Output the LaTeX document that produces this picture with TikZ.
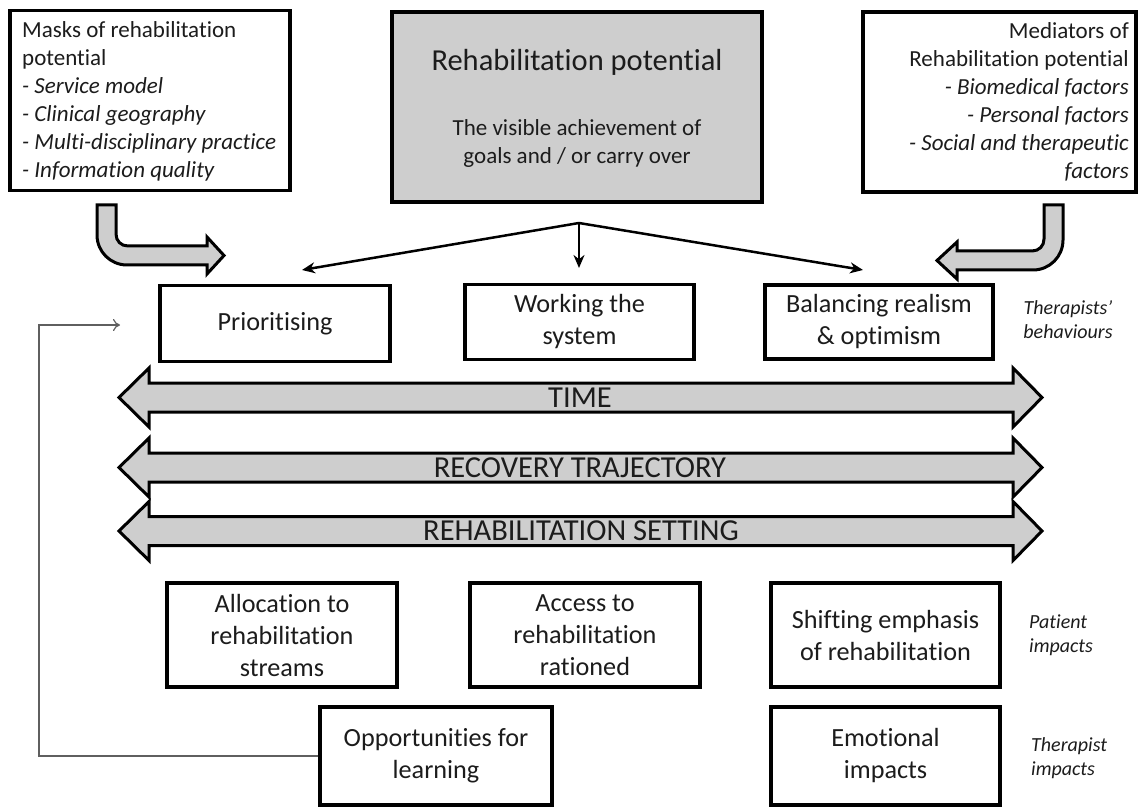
\documentclass[tikz,border=0pt]{standalone}
\usepackage{fontspec}
\setmainfont{Carlito}[Ligatures={NoCommon}]
\usetikzlibrary{arrows.meta}
\definecolor{boxgray}{RGB}{206,206,206}
\definecolor{txt}{RGB}{28,28,28}
\definecolor{fbline}{RGB}{95,95,95}
\tikzset{
 box/.style={draw=black, line width=3.2pt, fill=white, align=center, inner sep=0pt, text=txt, font=\fontsize{26.2pt}{32pt}\selectfont},
 sidebox/.style={draw=black, line width=3.4pt, fill=white, inner sep=0pt},
 sidetext/.style={inner sep=0pt, text=txt, font=\fontsize{23pt}{28pt}\selectfont},
 band/.style={draw=black, line width=3pt, fill=boxgray, line join=miter},
 bandlabel/.style={inner sep=0pt, text=txt, font=\fontsize{30.5pt}{34pt}\selectfont},
 bent/.style={draw=black, line width=3pt, fill=boxgray, line join=miter},
 conn/.style={line width=2.5pt, -{Stealth[length=13pt,width=11pt]}},
 fb/.style={draw=fbline, line width=1.2pt, -{To[length=7pt,width=12pt]}},
 note/.style={inner sep=0pt, text=txt, font=\fontsize{20pt}{24pt}\selectfont\itshape},
}
\begin{document}
\begin{tikzpicture}[x=1pt,y=-1pt]
\useasboundingbox (0,0) rectangle (1140,810);

% ---- top boxes
\node[sidebox, minimum width=280pt, minimum height=180pt] (masks) at (150,100.5) {};
\node[sidetext, anchor=west, align=left] (maskstext) at (22,101) {Masks of rehabilitation\\potential\\\textit{- Service model}\\\textit{- Clinical geography}\\\textit{- Multi-disciplinary practice}\\\textit{- Information quality}};

\node[sidebox, minimum width=273pt, minimum height=180pt] (med) at (999.5,102) {};
\node[sidetext, anchor=east, align=right] (medtext) at (1129,102) {Mediators of\\Rehabilitation potential\\\textit{- Biomedical factors}\\\textit{- Personal factors}\\\textit{- Social and therapeutic}\\\textit{factors}};

\node[sidebox, fill=boxgray, minimum width=370pt, minimum height=190pt] (rp) at (577,107) {};
\node[inner sep=0pt, text=txt, font=\fontsize{30.5pt}{36pt}\selectfont] (rptitle) at (577,62) {Rehabilitation potential};
\node[sidetext, align=center] (rpsub) at (577,143) {The visible achievement of\\goals and / or carry over};

% ---- connectors from potential
\coordinate (apex) at (579,223);
\coordinate (tl) at (302,270);
\coordinate (tm) at (579,268);
\coordinate (tr) at (863,270);
\draw[conn] (apex) -- (tl);
\draw[conn] (apex) -- (tm);
\draw[conn] (apex) -- (tr);

% ---- bent arrows
\draw[bent] (97,205) -- (97,235) .. controls (97,251.6) and (110.4,265) .. (127,265) -- (207,265) -- (207,274) -- (224,255.5) -- (207,237) -- (207,246) -- (128,246) .. controls (121,246) and (116,241) .. (116,234) -- (116,205) -- cycle;
\draw[bent] (1063,205) -- (1063,240) .. controls (1063,256.6) and (1049.6,270) .. (1033,270) -- (957,270) -- (957,279) -- (937,260.5) -- (957,242) -- (957,251) -- (1032,251) .. controls (1039,251) and (1044,246) .. (1044,239) -- (1044,205) -- cycle;

% ---- therapists' behaviours
\node[box, minimum width=230pt, minimum height=76pt] (prio) at (275,323.5) {Prioritising};
\node[box, minimum width=229pt, minimum height=75pt] (work) at (579.5,322) {Working the\\system};
\node[box, minimum width=228pt, minimum height=74pt] (bal) at (879,322) {Balancing realism\\\& optimism};
\node[note, align=center] (tb) at (1068,320) {Therapists’\\behaviours};

% ---- bands
\draw[band] (119,397.5) -- (149,368) -- (149,383) -- (1013,383) -- (1013,368) -- (1042,397.5) -- (1013,427) -- (1013,412) -- (149,412) -- (149,427) -- cycle;
\node[bandlabel] (time) at (580,398) {TIME};
\draw[band] (119,467.5) -- (149,438) -- (149,453) -- (1013,453) -- (1013,438) -- (1042,467.5) -- (1013,497) -- (1013,482) -- (149,482) -- (149,497) -- cycle;
\node[bandlabel] (traj) at (580,468) {RECOVERY TRAJECTORY};
\draw[band] (119,531) -- (149,501.5) -- (149,516.5) -- (1013,516.5) -- (1013,501.5) -- (1042,531) -- (1013,560.5) -- (1013,545.5) -- (149,545.5) -- (149,560.5) -- cycle;
\node[bandlabel] (setting) at (581,531) {REHABILITATION SETTING};

% ---- patient impacts
\node[box, minimum width=230pt, minimum height=104pt] (alloc) at (282,635) {Allocation to\\rehabilitation\\streams};
\node[box, minimum width=230pt, minimum height=104pt] (access) at (585,635) {Access to\\rehabilitation\\rationed};
\node[box, minimum width=229pt, minimum height=104pt] (shift) at (885.5,635) {Shifting emphasis\\of rehabilitation};
\node[note, align=left, anchor=west] (pi) at (1029,635) {Patient\\impacts};

% ---- therapist impacts
\node[box, minimum width=232pt, minimum height=98pt] (opp) at (436,756) {Opportunities for\\learning};
\node[box, minimum width=229pt, minimum height=98pt] (emo) at (885.5,756) {Emotional\\impacts};
\node[note, align=left, anchor=west] (ti) at (1031,758) {Therapist\\impacts};

% ---- feedback
\coordinate (fbend) at (120,325);
\draw[fb] (opp.west) -- (39,756) |- (fbend);
\end{tikzpicture}
\end{document}
